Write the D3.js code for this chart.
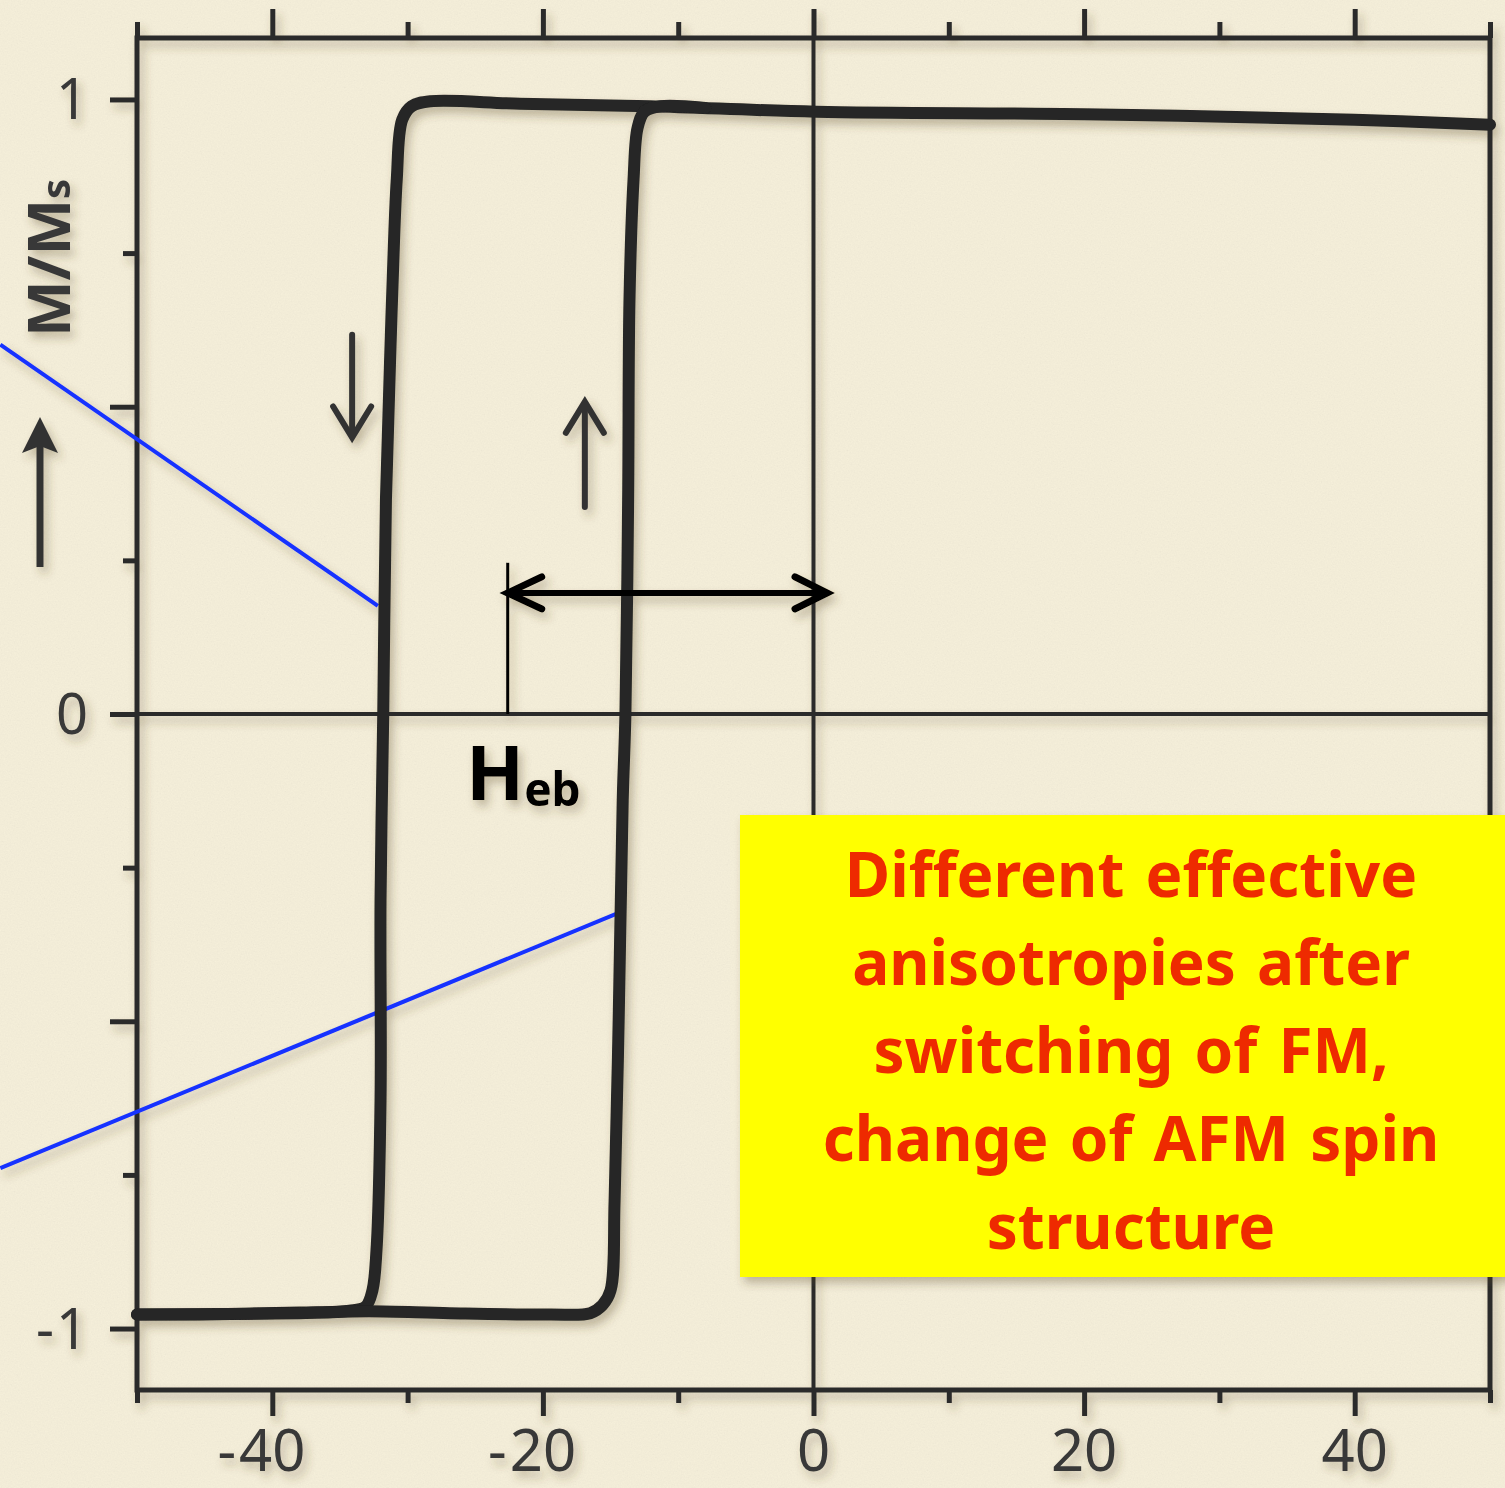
<!DOCTYPE html>
<html lang="en">
<head>
<meta charset="UTF-8">
<title>Exchange bias hysteresis loop</title>
<script src="https://d3js.org/d3.v7.min.js"></script>
<style>
    body { margin: 0; padding: 0; background: #f5efd9; overflow: hidden; }
    svg { display: block; }
    .frame, .tick line { stroke: #2b2b2b; stroke-width: 5; fill: none; }
    .zero { stroke: #2b2b2b; stroke-width: 4; }
    .loop { fill: none; stroke: #252525; stroke-width: 12; stroke-linejoin: round; stroke-linecap: round; }
    .slope { stroke: #1432ff; stroke-width: 4; }
    .lbl { font-family: 'Comic Sans MS', 'Chalkboard SE', 'Noto Sans', sans-serif; fill: #383838; }
    .note { font-family: 'Comic Sans MS', 'Chalkboard SE', 'Noto Sans', sans-serif; font-weight: bold; fill: #ee2a00; font-size: 62px; word-spacing: 5px; text-anchor: middle; }
</style>
</head>
<body>
<svg id="chart" width="1505" height="1488"></svg>
<script>
// field H (Oe) and M/Ms
const descH = [50, 40, 20, 0.2, -12.1, -21.7, -28.3, -29.7, -30.4, -30.8, -31.1, -31.3, -31.6, -31.8, -32.0, -32.0, -32.3, -32.6, -33.1, -34.3, -38.0, -45.4, -50];
const descM = [0.959, 0.967, 0.976, 0.980, 0.989, 0.993, 0.997, 0.989, 0.967, 0.870, 0.707, 0.572, 0.349, 0.0, -0.303, -0.629, -0.873, -0.938, -0.964, -0.971, -0.974, -0.977, -0.977];
const ascH = [-50, -38, -32.9, -26.9, -19.5, -16.5, -15.6, -15.0, -14.7, -14.4, -14.1, -13.9, -13.7, -13.6, -13.3, -13.0, -12.5, -11.3, -8];
const ascM = [-0.977, -0.975, -0.972, -0.975, -0.977, -0.975, -0.962, -0.938, -0.792, -0.498, -0.140, 0.0, 0.349, 0.674, 0.870, 0.954, 0.980, 0.989, 0.986];

// blue slope guides
const slopeUpperH = [-60.1, -32.2], slopeUpperM = [0.601, 0.176];
const slopeLowerH = [-60.1, -14.45], slopeLowerM = [-0.739, -0.324];

// annotations
const heb = { from: -22.6, to: 1.0, m: 0.197, top: 0.246 };
const downArrow = { h: -34.1, m0: 0.617, m1: 0.450 };
const upArrow = { h: -16.9, m0: 0.337, m1: 0.508 };

const xTicks = [-50, -40, -30, -20, -10, 0, 10, 20, 30, 40, 50];
const xLabels = [-40, -20, 0, 20, 40];
const yTicks = [-1, -0.75, -0.5, -0.25, 0, 0.25, 0.5, 0.75, 1];
const yLabels = [-1, 0, 1];
const noteLines = ['Different effective', 'anisotropies after', 'switching of FM,', 'change of AFM spin', 'structure'];

const W = 1505, H = 1488;
const svg = d3.select('#chart');
const x = d3.scaleLinear().domain([-50, 50]).range([137, 1490]);
const y = d3.scaleLinear().domain([-1.1, 1.1]).range([1390, 38]);

const defs = svg.append('defs');
const noise = defs.append('filter').attr('id', 'noise').attr('x', 0).attr('y', 0).attr('width', 1).attr('height', 1);
noise.append('feTurbulence').attr('type', 'fractalNoise').attr('baseFrequency', 0.7).attr('numOctaves', 3).attr('seed', 4);
noise.append('feColorMatrix').attr('type', 'matrix')
    .attr('values', '0.33 0.33 0.33 0 0  0.33 0.33 0.33 0 0  0.33 0.33 0.33 0 0  0 0 0 0 1');
const shadow = defs.append('filter').attr('id', 'shadow').attr('x', '-5%').attr('y', '-5%').attr('width', '115%').attr('height', '115%');
shadow.append('feDropShadow').attr('dx', 4).attr('dy', 6).attr('stdDeviation', 5).attr('flood-color', '#5a4a2a').attr('flood-opacity', 0.35);

// paper
svg.append('rect').attr('width', W).attr('height', H).attr('fill', '#f8f2dd');
svg.append('rect').attr('width', W).attr('height', H).attr('filter', 'url(#noise)')
    .style('mix-blend-mode', 'multiply').attr('opacity', 0.09);

const g = svg.append('g').attr('filter', 'url(#shadow)');

// axes (ticks outside)
const isMajorX = d => d % 20 === 0;
const isMajorY = d => (d * 2) % 1 === 0;
const axBottom = g.append('g').attr('transform', `translate(0,${y(-1.1)})`)
    .call(d3.axisBottom(x).tickValues(xTicks).tickSizeOuter(0).tickFormat(''));
const axTop = g.append('g').attr('transform', `translate(0,${y(1.1)})`)
    .call(d3.axisTop(x).tickValues(xTicks).tickSizeOuter(0).tickFormat(''));
const axLeft = g.append('g').attr('transform', `translate(${x(-50)},0)`)
    .call(d3.axisLeft(y).tickValues(yTicks).tickSizeOuter(0).tickFormat(''));
[axBottom, axTop, axLeft].forEach(a => a.select('.domain').remove());
axBottom.selectAll('.tick line').attr('y2', d => isMajorX(d) ? 26 : 13);
axTop.selectAll('.tick line').attr('y2', d => isMajorX(d) ? -29 : -16);
axLeft.selectAll('.tick line').attr('x2', d => isMajorY(d) ? -27 : -14);

g.append('rect').attr('class', 'frame')
    .attr('x', x(-50)).attr('y', y(1.1)).attr('width', x(50) - x(-50)).attr('height', y(-1.1) - y(1.1));
g.append('line').attr('class', 'zero').attr('x1', x(-50)).attr('x2', x(50)).attr('y1', y(0)).attr('y2', y(0));
g.append('line').attr('class', 'zero').attr('x1', x(0)).attr('x2', x(0)).attr('y1', y(1.1)).attr('y2', y(-1.1));

// tick labels: digits centred on the tick, minus hanging left
xLabels.forEach(v => {
    const t = g.append('text').attr('class', 'lbl').attr('x', x(v)).attr('y', 1471)
        .attr('text-anchor', 'middle').attr('font-size', 58).text(Math.abs(v));
    if (v < 0) {
        const w = t.node().getComputedTextLength();
        g.append('text').attr('class', 'lbl').attr('x', x(v) - w / 2 - 3).attr('y', 1471)
            .attr('text-anchor', 'end').attr('font-size', 58).text('-');
    }
});
yLabels.forEach(v => {
    const t = g.append('text').attr('class', 'lbl').attr('x', 72).attr('y', y(v) + 20)
        .attr('text-anchor', 'middle').attr('font-size', 56).text(Math.abs(v));
    if (v < 0) {
        const w = t.node().getComputedTextLength();
        g.append('text').attr('class', 'lbl').attr('x', 72 - w / 2 - 2).attr('y', y(v) + 20)
            .attr('text-anchor', 'end').attr('font-size', 56).text('-');
    }
});

// y axis title
const yt = g.append('text').attr('class', 'lbl').attr('font-weight', 'bold').attr('font-size', 60)
    .attr('transform', 'translate(70,337) rotate(-90)');
yt.append('tspan').text('M/M');
yt.append('tspan').attr('font-size', 40).text('s');
g.append('line').attr('x1', 40).attr('x2', 40).attr('y1', 567).attr('y2', 445)
    .attr('stroke', '#333').attr('stroke-width', 7);
g.append('path').attr('d', 'M40,417 L58,453 L40,446 L22,453 Z').attr('fill', '#333');

// slope guides
[[slopeUpperH, slopeUpperM], [slopeLowerH, slopeLowerM]].forEach(([hs, ms]) => {
    g.append('line').attr('class', 'slope')
        .attr('x1', x(hs[0])).attr('y1', y(ms[0])).attr('x2', x(hs[1])).attr('y2', y(ms[1]));
});

// hysteresis loop
const line = d3.line().x(d => x(d[0])).y(d => y(d[1])).curve(d3.curveCatmullRom.alpha(0.5));
g.append('path').attr('class', 'loop').attr('d', line(d3.zip(descH, descM)));
g.append('path').attr('class', 'loop').attr('d', line(d3.zip(ascH, ascM)));

// sweep arrows
function chevron(tx, ty, dx, dy) {
    return `M${tx + dx},${ty + dy} L${tx},${ty} L${tx - dx},${ty + dy}`;
}
const arrowStyle = s => s.attr('stroke', '#333').attr('stroke-width', 6).attr('fill', 'none').attr('stroke-linecap', 'round');
g.append('line').attr('x1', x(downArrow.h)).attr('x2', x(downArrow.h))
    .attr('y1', y(downArrow.m0)).attr('y2', y(downArrow.m1) - 2).call(arrowStyle);
g.append('path').attr('d', chevron(x(downArrow.h), y(downArrow.m1), 19, -31)).call(arrowStyle);
g.append('line').attr('x1', x(upArrow.h)).attr('x2', x(upArrow.h))
    .attr('y1', y(upArrow.m0)).attr('y2', y(upArrow.m1) + 2).call(arrowStyle);
g.append('path').attr('d', chevron(x(upArrow.h), y(upArrow.m1), 19, 31)).call(arrowStyle);

// exchange bias field marker
const hebStyle = s => s.attr('stroke', '#000').attr('fill', 'none').attr('stroke-linecap', 'round');
g.append('line').attr('x1', x(heb.from)).attr('x2', x(heb.from)).attr('y1', y(0)).attr('y2', y(heb.top))
    .call(hebStyle).attr('stroke-width', 3).attr('stroke-linecap', 'butt');
g.append('line').attr('x1', x(heb.from)).attr('x2', x(heb.to)).attr('y1', y(heb.m)).attr('y2', y(heb.m))
    .call(hebStyle).attr('stroke-width', 6);
g.append('path').attr('d', `M${x(heb.from) + 34},${y(heb.m) - 16} L${x(heb.from)},${y(heb.m)} L${x(heb.from) + 34},${y(heb.m) + 16}`)
    .call(hebStyle).attr('stroke-width', 7);
g.append('path').attr('d', `M${x(heb.to) - 32},${y(heb.m) - 16} L${x(heb.to)},${y(heb.m)} L${x(heb.to) - 32},${y(heb.m) + 16}`)
    .call(hebStyle).attr('stroke-width', 7);
const ht = g.append('text').attr('class', 'lbl').style('fill', '#000')
    .attr('font-weight', 'bold').attr('x', 466).attr('y', 800);
ht.append('tspan').attr('font-size', 76).text('H');
ht.append('tspan').attr('font-size', 46).attr('dy', 6).text('eb');

// note box
const box = svg.append('g').attr('filter', 'url(#shadow)');
box.append('rect').attr('x', 740).attr('y', 815).attr('width', 780).attr('height', 462).attr('fill', '#ffff00');
box.selectAll('text.note').data(noteLines).join('text').attr('class', 'note')
    .attr('x', 1131).attr('y', (d, i) => 897 + i * 88).text(d => d);
</script>
</body>
</html>
